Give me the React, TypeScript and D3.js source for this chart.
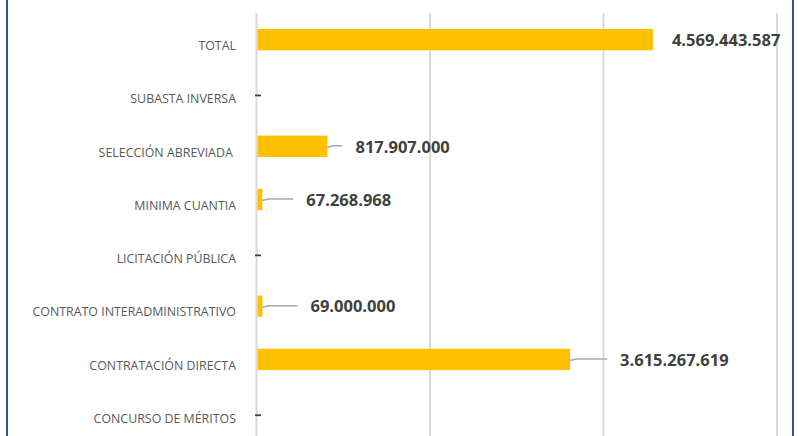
import React, { useEffect, useRef } from "react";
import * as d3 from "d3";

// categories top to bottom
const categories = [
  "TOTAL",
  "SUBASTA INVERSA",
  "SELECCIÓN ABREVIADA ",
  "MINIMA CUANTIA",
  "LICITACIÓN PÚBLICA",
  "CONTRATO INTERADMINISTRATIVO",
  "CONTRATACIÓN DIRECTA",
  "CONCURSO DE MÉRITOS",
];
const values = [4569443587, 0, 817907000, 67268968, 0, 69000000, 3615267619, 0];
const xTicks = [0, 2000000000, 4000000000, 6000000000];
// how far each data label was dragged right of its bar end (px), 0 = no leader line
const labelNudge = [0, 0, 28, 44, 0, 48, 50, 0];

const W = 798;
const H = 436;

const fmt = (v: number) =>
  d3.format(",")(v).replace(/,/g, ".");

const App = () => {
  const ref = useRef<SVGSVGElement>(null);

  useEffect(() => {
    const svg = d3.select(ref.current);
    svg.selectAll("*").remove();

    const plotTop = 13;
    const step = 53.3;
    const x = d3.scaleLinear().domain([0, 6000000000]).range([256.5, 777]);
    const y = d3
      .scaleBand()
      .domain(categories)
      .range([plotTop, plotTop + step * categories.length]);
    const barH = y.bandwidth() * 0.4;

    svg.append("rect").attr("width", W).attr("height", H).attr("fill", "#fff");

    // gridlines
    svg
      .append("g")
      .selectAll("line")
      .data(xTicks)
      .join("line")
      .attr("x1", (d) => x(d))
      .attr("x2", (d) => x(d))
      .attr("y1", plotTop)
      .attr("y2", H + 10)
      .attr("stroke", "#d9d9d9")
      .attr("stroke-width", 2);

    // category labels
    svg
      .append("g")
      .selectAll("text")
      .data(categories)
      .join("text")
      .attr("x", 236)
      .attr("y", (d) => y(d)! + y.bandwidth() / 2 + 6)
      .attr("dy", "0.35em")
      .attr("text-anchor", "end")
      .attr("xml:space", "preserve")
      .style("white-space", "pre")
      .attr("font-family", "'Open Sans', sans-serif")
      .attr("font-size", 12.4)
      .attr("fill", "#595959")
      .text((d) => d);

    // bars
    svg
      .append("g")
      .selectAll("rect")
      .data(values)
      .join("rect")
      .attr("x", x(0) + 1)
      .attr("y", (d, i) => y(categories[i])! + (y.bandwidth() - barH) / 2)
      .attr("width", (d) => Math.max(0, x(d) - x(0) - 1))
      .attr("height", (d) => (d > 0 ? barH : 0))
      .attr("fill", "#FFC000");

    const cy = (i: number) => y(categories[i])! + y.bandwidth() / 2;

    // zero markers
    svg
      .append("g")
      .selectAll("line")
      .data(values.map((v, i) => ({ v, i })).filter((d) => d.v === 0))
      .join("line")
      .attr("x1", x(0) - 1.5)
      .attr("x2", x(0) + 4.5)
      .attr("y1", (d) => cy(d.i) + 2.5)
      .attr("y2", (d) => cy(d.i) + 2.5)
      .attr("stroke", "#404040")
      .attr("stroke-width", 1.8);

    const labeled = values
      .map((v, i) => ({ v, i }))
      .filter((d) => d.v > 0);

    // leader lines
    svg
      .append("g")
      .selectAll("path")
      .data(labeled.filter((d) => labelNudge[d.i] > 0))
      .join("path")
      .attr("d", (d) => {
        const x0 = x(d.v);
        const x1 = x0 + labelNudge[d.i] - 13;
        const y0 = cy(d.i);
        return d3.line()([
          [x0, y0 + 1],
          [x0 + 6, y0 - 0.5],
          [x1, y0 - 0.5],
        ]);
      })
      .attr("fill", "none")
      .attr("stroke", "#a6a6a6")
      .attr("stroke-width", 1.5);

    // data labels
    svg
      .append("g")
      .selectAll("text")
      .data(labeled)
      .join("text")
      .attr("x", (d) => x(d.v) + (labelNudge[d.i] > 0 ? labelNudge[d.i] : 19))
      .attr("y", (d) => cy(d.i) + 0.5)
      .attr("dy", "0.35em")
      .attr("font-family", "'Open Sans', sans-serif")
      .attr("font-weight", "bold")
      .attr("font-size", 16.5)
      .attr("fill", "#404040")
      .text((d) => fmt(d.v));

    // chart frame (left and right edges visible)
    svg
      .append("rect")
      .attr("x", 7)
      .attr("y", -20)
      .attr("width", 786)
      .attr("height", H + 40)
      .attr("fill", "none")
      .attr("stroke", "#2F5597")
      .attr("stroke-width", 2);
  }, []);

  return (
    <div style={{ position: "fixed", left: 0, top: 0 }}>
      <svg ref={ref} width={W} height={H} style={{ display: "block" }}></svg>
    </div>
  );
};

export default App;
